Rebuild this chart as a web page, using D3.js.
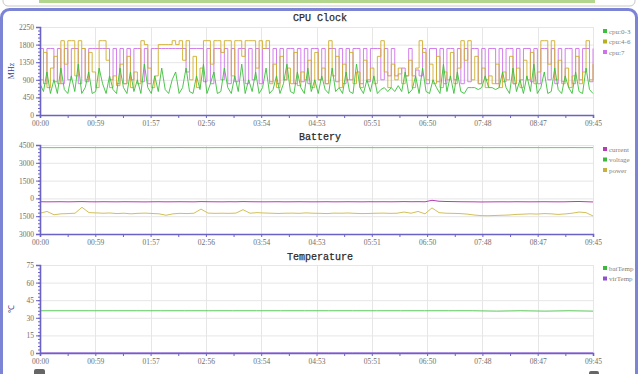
<!DOCTYPE html>
<html>
<head>
<meta charset="utf-8">
<script src="https://cdn.jsdelivr.net/npm/d3@7"></script>
<style>
  html, body { margin: 0; padding: 0; background: #fff; }
  svg { display: block; }
</style>
</head>
<body>
<div id="chart"></div>
<script>
// time axis (minutes), labels as shown
const xTicks = [0, 58.5, 117, 175.5, 234, 292.5, 351, 409.5, 468, 526.5, 585]
const xTickLabels = ["00:00", "00:59", "01:57", "02:56", "03:54", "04:53", "05:51", "06:50", "07:48", "08:47", "09:45"]

// CPU clock (MHz), 160 samples over the session
const cpu7 = [
  1700, 800, 1700, 1700, 850, 1700, 800, 1700,
  900, 1700, 1700, 800, 1700, 850, 1700, 1700,
  1700, 1700, 1700, 1700, 900, 1700, 800,
  1700, 800, 1700, 900, 1700, 1700, 850, 1700, 800, 1700, 1700,
  1700, 1700, 1700, 1700, 1700, 1700, 1700, 1700, 1100, 1700, 1700, 1700, 1700,
  850, 1700, 800, 1700, 1700, 900, 1700, 800, 1700, 850, 1700, 1700, 800, 1700, 900, 1700, 800, 1700, 1700, 850, 1700,
  800, 1700, 900, 1700, 1700, 800, 1700, 850, 1700, 800, 1700, 1700, 900,
  1700, 800, 1700, 1700, 850, 1700, 800, 1700, 900, 1700, 1700, 800, 1700, 850, 1700, 1700, 1700, 900, 1700, 1000, 1700, 1000,
  1050, 1200, 1000, 1700, 1000, 1150, 1000, 1700,
  800, 1700, 1700, 850, 1700, 800, 1700, 1700, 900, 1700, 800, 1700, 850, 1700, 1700, 800, 1700, 900, 1700, 1700, 800, 1700, 850, 1700, 1700,
  800, 1700, 900, 1700, 1700, 850, 1700, 800, 1700, 1700, 900, 1700, 800, 1700, 850, 1700, 1700, 800, 1700, 900, 1700, 1700, 850, 1700
]
const cpu4_6 = [
  900, 1600, 700, 1200, 1500, 800,
  1900, 1300, 1900, 1900, 1000, 1900, 1700,
  900, 1600, 1100, 700,
  1900, 1900, 1400, 700,
  1000, 750, 1300, 800, 1500, 700, 1100, 800,
  1900, 1800, 1200, 700, 1000,
  1800, 1800, 1800, 1800, 1900, 1800, 1900,
  1400, 1900, 900, 1500, 700, 1200,
  1900, 1900, 1300, 1900, 1900, 1600, 1900, 1900, 1000, 1900, 1900, 1500, 1900, 1900, 1900, 1200, 1900, 1700, 1900,
  800, 1300, 700, 1500, 900, 1200, 800, 1600, 750, 1100, 900, 1400, 700, 1600, 900,
  1200, 800, 1900, 1000, 1500, 700, 1300, 900, 1600, 800, 1100, 700, 1400, 900, 1200,
  800, 1500, 1900, 1100, 700, 1300, 900, 1200, 800,
  1000, 1400, 700, 1200, 1900, 1600, 900, 1300, 800, 1500, 700, 1100, 900, 1600, 800, 1200,
  1900, 1400, 1900, 900, 1500, 800, 1200, 700, 1000, 800,
  1300, 700, 1100, 900, 1500, 800, 1200, 700, 1400, 900, 1600, 800, 1100,
  1900, 1900, 1300, 1900, 900, 1400, 800,
  1200, 700, 1000, 1500, 800, 1100, 1900, 900, 1300
]
const cpu0_3 = [
  800, 600, 1100, 550, 900, 550, 1200, 650, 550, 1000, 600, 1300, 550, 700, 1100, 550, 600, 1200, 800, 550,
  1000, 650, 550, 1200, 700, 550, 1100, 600, 900, 550, 1300, 700, 550, 1000, 600, 1200, 650, 550, 900, 1100,
  550, 700, 1200, 600, 550, 1000, 650, 1300, 550, 800, 1100, 550, 600, 1200, 700, 550, 1000, 600, 1300, 550,
  900, 600, 1100, 550, 700, 1200, 550, 650, 1000, 550, 800, 1300, 600, 550, 1100, 700, 550, 1200, 600, 900,
  550, 1000, 650, 550, 1200, 600, 700, 550, 1100, 600, 550, 1300, 700, 550, 900, 600, 1000, 550, 650, 700,
  600, 700, 600, 750, 600, 1100, 550, 650, 1000, 550, 1200, 600, 550, 900, 700, 550, 1300, 600, 1000, 550,
  1100, 600, 550, 700, 700, 700, 650, 700, 1000, 700, 700, 650, 700, 1100, 700, 550, 1200, 600, 900, 550,
  1000, 600, 1300, 550, 700, 1100, 550, 600, 1200, 650, 550, 1000, 700, 550, 1100, 600, 550, 1200, 650, 550
]

// Battery, 80 samples
const batCurrent = [
  -280, -290, -285, -280, -290, -280, -270, -285, -290, -280,
  -285, -290, -280, -285, -290, -295, -285, -280, -290, -285,
  -280, -285, -290, -270, -280, -285, -290, -280, -285, -270,
  -280, -285, -290, -285, -280, -290, -285, -280, -285, -290,
  -285, -280, -290, -285, -280, -285, -290, -280, -285, -280,
  -285, -280, -270, -280, -275, -285, -160, -240, -260, -270,
  -280, -285, -290, -300, -295, -290, -285, -290, -280, -285,
  -290, -285, -280, -285, -290, -285, -270, -260, -280, -300
]
const batVoltage = [
  4280, 4280, 4275, 4280, 4280, 4285, 4280, 4280, 4275, 4280,
  4280, 4280, 4285, 4280, 4280, 4280, 4275, 4280, 4280, 4280,
  4285, 4280, 4280, 4280, 4275, 4280, 4280, 4280, 4285, 4280,
  4280, 4280, 4275, 4280, 4280, 4280, 4285, 4280, 4280, 4280,
  4275, 4280, 4280, 4280, 4285, 4280, 4280, 4280, 4275, 4280,
  4280, 4280, 4285, 4280, 4280, 4280, 4275, 4280, 4280, 4280,
  4285, 4280, 4280, 4280, 4275, 4280, 4280, 4280, 4285, 4280,
  4280, 4280, 4275, 4280, 4280, 4280, 4285, 4280, 4280, 4280
]
const batPower = [
  -1250, -1100, -1380, -1300, -1280, -1250, -750, -1200, -1220, -1250,
  -1230, -1280, -1250, -1300, -1260, -1240, -1270, -1300, -1420, -1300,
  -1260, -1280, -1250, -900, -1240, -1260, -1250, -1260, -1240, -950,
  -1250, -1200, -1230, -1250, -1270, -1250, -1240, -1260, -1220, -1250,
  -1260, -1280, -1240, -1250, -1230, -1260, -1280, -1270, -1250, -1240,
  -1260, -1250, -1150, -1250, -1100, -1300, -800, -1200, -1250, -1260,
  -1280, -1320, -1400, -1450, -1460, -1440, -1420, -1400, -1350, -1330,
  -1300, -1320, -1280, -1300, -1350, -1310, -1250, -1150, -1200, -1480
]

// Temperature, 24 samples
const batTemp = [36, 36, 36, 36, 36, 36, 36, 36, 36, 36, 36, 36, 36, 36, 36, 36, 36, 36, 36, 35.7, 36, 35.7, 36, 35.7]
const virTemp = [0, 0, 0, 0, 0, 0, 0, 0, 0, 0, 0, 0, 0, 0, 0, 0, 0, 0, 0, 0, 0, 0, 0, 0]

const axisColor = "#6a62c4"
const gridColor = "#e6e6e6"

const svg = d3.select("#chart").append("svg")
  .attr("width", 640)
  .attr("height", 374)

// page chrome
svg.append("rect").attr("x", 3).attr("y", -10).attr("width", 632).attr("height", 16)
  .attr("rx", 5).attr("fill", "#fff").attr("stroke", "#c8c8c8")
svg.append("rect").attr("x", 39).attr("y", 0).attr("width", 556).attr("height", 3)
  .attr("fill", "#b2d68e")
svg.append("rect").attr("x", 1.5).attr("y", 9.5).attr("width", 635).attr("height", 390)
  .attr("rx", 8).attr("fill", "#fff").attr("stroke", "#7c84d6").attr("stroke-width", 3)
svg.append("rect").attr("x", 34).attr("y", 369).attr("width", 11).attr("height", 9).attr("rx", 2).attr("fill", "#666")
svg.append("rect").attr("x", 589).attr("y", 371).attr("width", 10).attr("height", 8).attr("rx", 2).attr("fill", "#666")

const x = d3.scaleLinear().domain([0, 585]).range([40, 593])

function drawPanel(cfg) {
  const g = svg.append("g")
  const y = d3.scaleLinear().domain(cfg.yDomain).range([cfg.bottom, cfg.top])

  // grid
  g.append("g").selectAll("line").data(cfg.yTicks).enter().append("line")
    .attr("x1", 40).attr("x2", 593)
    .attr("y1", (d) => y(d) + 0.5).attr("y2", (d) => y(d) + 0.5)
    .attr("stroke", gridColor)
  g.append("g").selectAll("line").data(xTicks).enter().append("line")
    .attr("x1", (d) => Math.round(x(d)) + 0.5).attr("x2", (d) => Math.round(x(d)) + 0.5)
    .attr("y1", cfg.top).attr("y2", cfg.bottom)
    .attr("stroke", gridColor)

  // title
  g.append("text")
    .attr("x", 320).attr("y", cfg.titleY)
    .attr("text-anchor", "middle")
    .style("font-family", "'Liberation Mono', monospace")
    .style("font-size", "10px")
    .style("fill", "#2a2a2a")
    .style("stroke", "#2a2a2a")
    .style("stroke-width", "0.25px")
    .text(cfg.title)

  // lines
  cfg.series.forEach((s) => {
    const n = s.values.length
    const line = d3.line()
      .curve(s.step ? d3.curveStepAfter : d3.curveLinear)
      .x((d, i) => x(i * 585 / (n - 1)))
      .y((d) => y(d))
    g.append("path")
      .datum(s.values)
      .attr("fill", "none")
      .attr("stroke", s.color)
      .attr("stroke-width", 1)
      .attr("stroke-opacity", s.opacity || 1)
      .attr("d", line)
  })

  // x axis
  const xMinor = xTicks.slice(1).map((d) => d - 29.25)
  g.append("g").attr("transform", "translate(0," + cfg.bottom + ")")
    .call(d3.axisBottom(x).tickValues(xTicks).tickFormat((d, i) => xTickLabels[i]).tickSize(3).tickPadding(3))
  g.append("g").attr("transform", "translate(0," + cfg.bottom + ")")
    .call(d3.axisBottom(x).tickValues(xMinor).tickFormat("").tickSize(3))
    .select(".domain").remove()

  // y axis
  const step = cfg.yTicks[1] - cfg.yTicks[0]
  const yMinor = []
  for (let v = cfg.yDomain[0]; v <= cfg.yDomain[1]; v += step / 5) yMinor.push(v)
  g.append("g").attr("transform", "translate(40,0)")
    .call(d3.axisLeft(y).tickValues(cfg.yTicks).tickSize(4).tickPadding(2).tickFormat(cfg.fmt || ((d) => d)))
  g.append("g").attr("transform", "translate(40,0)")
    .call(d3.axisLeft(y).tickValues(yMinor).tickFormat("").tickSize(2))
    .select(".domain").remove()

  g.selectAll(".domain").attr("stroke", axisColor).attr("stroke-width", 1.6)
  g.selectAll(".tick line").attr("stroke", axisColor)
  g.selectAll(".tick text")
    .style("font-family", "'Liberation Serif', serif")
    .style("font-size", "7.5px")
    .style("fill", "#6e6e6e")

  if (cfg.yLabel) {
    g.append("text")
      .attr("transform", "translate(14," + ((cfg.top + cfg.bottom) / 2) + ") rotate(-90)")
      .attr("text-anchor", "middle")
      .style("font-family", "'Liberation Serif', serif")
      .style("font-size", "8px")
      .style("fill", "#3b3b8e")
      .text(cfg.yLabel)
  }

  // legend
  const leg = g.append("g").selectAll("g").data(cfg.legend).enter().append("g")
    .attr("transform", (d, i) => "translate(603," + (cfg.legendY + i * 10.5) + ")")
  leg.append("rect").attr("x", 0).attr("y", -2).attr("width", 4).attr("height", 4)
    .attr("fill", (d) => d.color)
  leg.append("text").attr("x", 6).attr("y", 2.5)
    .style("font-family", "'Liberation Serif', serif")
    .style("font-size", "7px")
    .style("fill", "#808080")
    .text((d) => d.name)
}

const cGreen = "#3cbf3c", cOlive = "#cfae2a", cViolet = "#cf72ea"

drawPanel({
  title: "CPU Clock", titleY: 21, top: 27, bottom: 115,
  yDomain: [0, 2250], yTicks: [0, 450, 900, 1350, 1800, 2250], yLabel: "MHz",
  series: [
    { color: cViolet, values: cpu7, opacity: 0.9, step: true },
    { color: cOlive, values: cpu4_6, opacity: 0.9, step: true },
    { color: cGreen, values: cpu0_3, opacity: 0.9 }
  ],
  legendY: 31,
  legend: [{ name: "cpu:0-3", color: cGreen }, { name: "cpu:4-6", color: "#b5b020" }, { name: "cpu:7", color: cViolet }]
})

const cMag = "#b53cb5", cVolt = "#6acc6a", cPow = "#d2c05a"
drawPanel({
  title: "Battery", titleY: 140, top: 145, bottom: 234,
  yDomain: [-3000, 4500], yTicks: [-3000, -1500, 0, 1500, 3000, 4500],
  fmt: (d) => Math.abs(d),
  series: [
    { color: cVolt, values: batVoltage },
    { color: cMag, values: batCurrent },
    { color: cPow, values: batPower }
  ],
  legendY: 149,
  legend: [{ name: "current", color: cMag }, { name: "voltage", color: "#3cb83c" }, { name: "power", color: "#c8b040" }]
})

drawPanel({
  title: "Temperature", titleY: 260, top: 265, bottom: 353,
  yDomain: [0, 75], yTicks: [0, 15, 30, 45, 60, 75], yLabel: "\u2103",
  series: [
    { color: "#5cc85c", values: batTemp },
    { color: "#8a4ad0", values: virTemp }
  ],
  legendY: 268,
  legend: [{ name: "batTemp", color: "#3cb83c" }, { name: "virTemp", color: "#9050d0" }]
})
</script>
</body>
</html>
